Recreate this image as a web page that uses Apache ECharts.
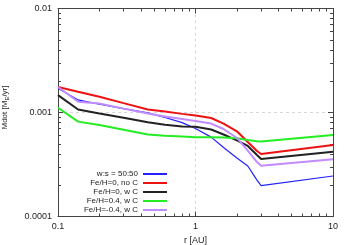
<!DOCTYPE html>
<html>
<head>
<meta charset="utf-8">
<script src="https://cdn.jsdelivr.net/npm/echarts@6/dist/echarts.min.js"></script>
<style>
html,body{margin:0;padding:0;background:#fff;}
#c{width:350px;height:245px;}
</style>
</head>
<body>
<div id="c"></div>
<script>
// radius [AU]
var rValues = [0.1, 0.14, 0.2, 0.3, 0.45, 0.6, 0.8, 1.0, 1.3, 1.6, 2.0, 2.4, 2.8, 3.0, 10];
// Mdot [M_E/yr]
var mdotWS5050   = [0.00171, 0.00132, 0.0012, 0.00109, 0.00099, 0.000895, 0.0008, 0.000702, 0.00058, 0.000461, 0.000365, 0.000306, 0.000224, 0.000198, 0.000245];
var mdotFe0NoC   = [0.00176, 0.00158, 0.00142, 0.00123, 0.00107, 0.00102, 0.00097, 0.000935, 0.000885, 0.000783, 0.00066, 0.00052, 0.000427, 0.000399, 0.000487];
var mdotFe0WC    = [0.00147, 0.00107, 0.00098, 0.00089, 0.000805, 0.000764, 0.000735, 0.00073, 0.000687, 0.000614, 0.00054, 0.000477, 0.00039, 0.000357, 0.00042];
var mdotFe04WC   = [0.00111, 0.000817, 0.000759, 0.000682, 0.000614, 0.000598, 0.000587, 0.000578, 0.000578, 0.000576, 0.000565, 0.000544, 0.00053, 0.000526, 0.000608];
var mdotFem04WC  = [0.00176, 0.00127, 0.00122, 0.00109, 0.00098, 0.000916, 0.000868, 0.000828, 0.000783, 0.000694, 0.000569, 0.00043, 0.000334, 0.000308, 0.000355];

var seriesNames = ['w:s = 50:50', 'Fe/H=0, no C', 'Fe/H=0, w C', 'Fe/H=0.4, w C', 'Fe/H=-0.4, w C'];
var xMinorTicks = [0.2,0.3,0.4,0.5,0.6,0.7,0.8,0.9,2,3,4,5,6,7,8,9];
var yMinorTicks = [0.0002,0.0003,0.0004,0.0005,0.0006,0.0007,0.0008,0.0009,0.002,0.003,0.004,0.005,0.006,0.007,0.008,0.009];

function pairs(ys){ return rValues.map(function(r,i){ return [r, ys[i]]; }); }

var FONT = '"Liberation Sans", Arial, sans-serif';
var AX = '#444';

function majorAxis(pos, withLabels, extra){
  var o = {
    type: 'log', logBase: 10, position: pos,
    axisLine: {show: true, onZero: false, lineStyle: {color: AX, width: 1}},
    axisTick: {show: true, inside: true, length: 5, lineStyle: {color: AX}},
    axisLabel: {show: withLabels, fontSize: 9, color: '#222', fontFamily: FONT, margin: 6},
    splitLine: {show: false},
    minorTick: {show: false}
  };
  for (var k in extra) o[k] = extra[k];
  return o;
}
function minorAxis(pos, lo, hi, vals){
  return {
    type: 'log', logBase: 10, position: pos, min: lo, max: hi,
    axisLine: {show: false, onZero: false},
    axisTick: {show: true, inside: true, length: 3, lineStyle: {color: AX, width: 1}, customValues: vals},
    axisLabel: {show: false},
    splitLine: {show: false},
    minorTick: {show: false}
  };
}

var colors = ['#2222ff', '#ee1111', '#222222', '#22ee22', '#c08cff'];
var widths = [1.2, 2, 2, 2, 2];
var dataSets = [mdotWS5050, mdotFe0NoC, mdotFe0WC, mdotFe04WC, mdotFem04WC];

var series = seriesNames.map(function(n, i){
  return {
    name: n, type: 'line', xAxisIndex: 0, yAxisIndex: 0,
    data: pairs(dataSets[i]), showSymbol: false, symbol: 'none',
    lineStyle: {color: colors[i], width: widths[i]}, itemStyle: {color: colors[i]},
    z: 3 + i, animation: false
  };
});

var chart = echarts.init(document.getElementById('c'), null, {renderer: 'canvas'});
chart.setOption({
  animation: false,
  backgroundColor: '#fff',
  textStyle: {fontFamily: FONT},
  grid: {left: 58, top: 8.5, width: 275, height: 208, containLabel: false, outerBoundsMode: 'none'},
  xAxis: [
    majorAxis('bottom', true, {min: 0.1, max: 10, name: 'r [AU]', nameLocation: 'middle', nameGap: 19,
      nameTextStyle: {fontSize: 9, color: '#222', fontFamily: FONT},
      splitLine: {show: true, lineStyle: {color: '#d8d8d8', type: [3,3], width: 1}}}),
    majorAxis('top', false, {min: 0.1, max: 10}),
    minorAxis('bottom', 0.1, 10, xMinorTicks),
    minorAxis('top', 0.1, 10, xMinorTicks)
  ],
  yAxis: [
    majorAxis('left', true, {min: 0.0001, max: 0.01, name: 'Mdot [M{s|E}/yr]', nameLocation: 'middle', nameGap: 48,
      nameTextStyle: {fontSize: 8, color: '#222', fontFamily: FONT, padding: [0,0,0,10],
        rich: {s: {fontSize: 6, color: '#222', fontFamily: FONT, verticalAlign: 'bottom', padding: [4,0,0,0]}}},
      axisLabel: {show: true, fontSize: 9, color: '#222', fontFamily: FONT, margin: 6,
        formatter: function(v){ return v >= 0.01 ? '0.01' : (v >= 0.001 ? '0.001' : '0.0001'); }},
      splitLine: {show: true, lineStyle: {color: '#d8d8d8', type: [3,3], width: 1}}}),
    majorAxis('right', false, {min: 0.0001, max: 0.01}),
    minorAxis('left', 0.0001, 0.01, yMinorTicks),
    minorAxis('right', 0.0001, 0.01, yMinorTicks)
  ],
  legend: {
    orient: 'vertical', align: 'right', right: 183, top: 169.5, padding: 0,
    icon: 'rect', itemWidth: 24, itemHeight: 2, itemGap: 0,
    data: seriesNames,
    textStyle: {fontSize: 8, color: '#222', fontFamily: FONT, lineHeight: 9},
    selectedMode: false
  },
  series: series
});
</script>
</body>
</html>
